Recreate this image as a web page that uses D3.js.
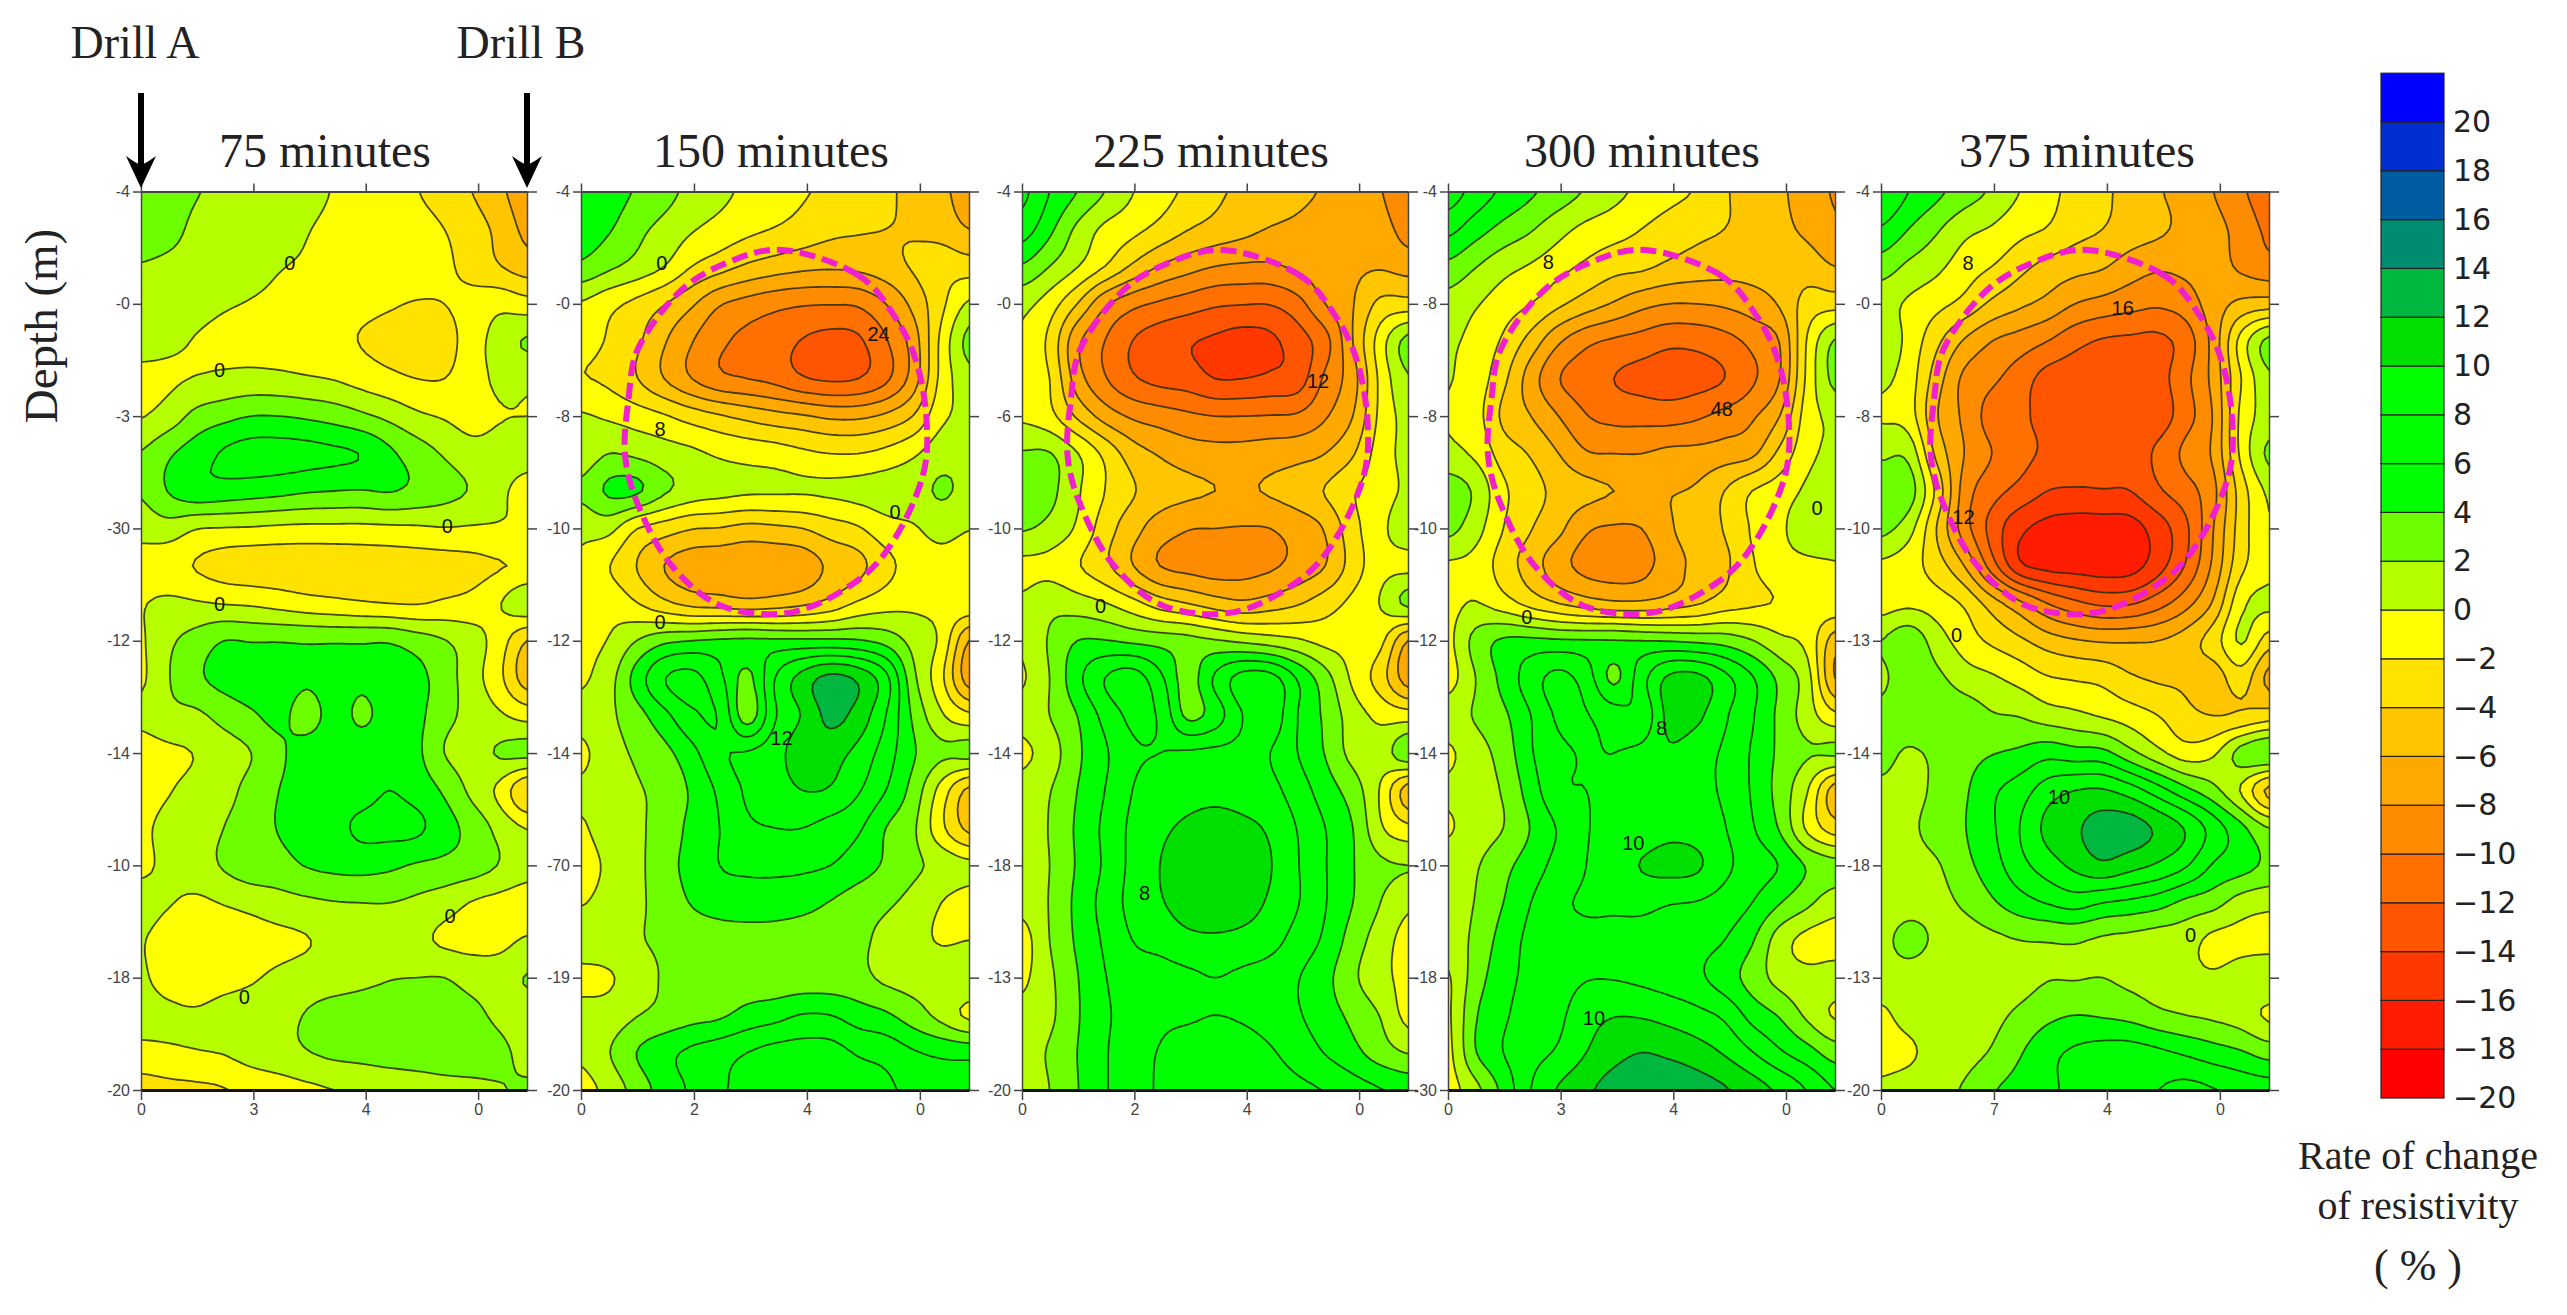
<!DOCTYPE html>
<html>
<head>
<meta charset="utf-8">
<script src="https://cdn.jsdelivr.net/npm/d3@7"></script>
<style>
  html, body { margin: 0; background: #fff; }
</style>
</head>
<body>
<div id="chart"></div>
<script>
// rate of change of resistivity (%)
// rows: depth -4 to -20, columns: distance 0 to 6.87 m from drill A
const minutes75 = [
  [3,2.8,2.1,1.6,1.3,1,.6,-.1,-.6,-1,-1.9,-3,-4,-5.6,-7],
  [3,2.6,1.6,1.2,1,.7,.1,-.4,-.8,-1,-1.2,-2,-3,-4.6,-6.5],
  [1.9,1.6,1.2,.9,.6,.1,-.2,-.5,-.7,-.9,-1.1,-1.7,-2.6,-3.9,-5],
  [1.3,1.1,.7,.2,-.1,-.4,-.7,-1,-1.4,-1.8,-2.1,-2,-1.4,-.6,-1.2],
  [.9,.4,-.1,-.5,-.7,-.9,-1,-1.3,-2.1,-2.6,-2.8,-2.7,-1,.9,2.2],
  [-.6,-.3,.1,.4,.6,.5,.2,-.1,-.8,-1.5,-2,-2,-.9,.4,.3],
  [-.1,.9,2.6,3.4,4,4,3.7,3.2,2.4,1.5,.4,-.2,-.8,-.1,0],
  [2.1,3.7,5,6.2,6.8,6.8,6.6,6.3,5.9,4.4,3,1.8,.8,.7,.6],
  [2.2,4.1,5.3,5.2,4.9,4.6,4.2,4,3.9,4.1,3.5,2.7,1.8,.4,-.6],
  [.7,1.1,.1,-.1,-.2,-.4,-.5,-.5,-.5,-.4,-.3,-.1,-.2,-.2,-.2],
  [-.8,-1.3,-2.1,-2.8,-3.1,-3.2,-3.3,-3.3,-3.2,-3.1,-3,-2.9,-2.6,-2.1,-1.8],
  [-.1,.4,.2,-.1,-.3,-.7,-1.2,-1.5,-1.8,-2,-2.1,-1.7,-1.3,-.1,1.5],
  [-.2,1.6,2.8,4,3.9,3.9,3.8,3.8,3.8,3.8,3,2.1,.9,-1,-4],
  [-.3,1.9,3.6,4.6,5,5,4.3,4.8,4.3,4.8,4.6,2.9,.9,-1.5,-5],
  [.4,1.4,1.6,2.7,3.7,4.5,3.2,4.7,3.7,4.7,4.5,2.6,1.4,.3,-.7],
  [-.8,-.4,.1,1,2,3.6,4.9,5,5,5,4.4,2,1.2,2.2,2.5],
  [-.7,-.1,.6,1.3,2.7,4,4.8,5,5.2,6,5.2,3.7,1.5,-.5,-4],
  [-.3,.5,1,2,3.1,4.1,4.9,5.4,6.4,6.6,6.4,4.8,3.3,1.4,-.1],
  [-.3,.4,1,2.2,3.2,3.3,4.1,4.5,4.7,4.4,3.8,3.5,3,1.9,.8],
  [.6,.1,-.3,.1,.6,1.2,1.6,1.9,2,2,1.6,.9,-.1,-.6,-1],
  [.1,-.7,-1,-1,-.8,-.5,-.1,.6,1,1.1,.5,-.3,-.6,-.5,.2],
  [.2,-.6,-1,-.6,-.2,.4,.9,1.1,1.5,1.9,2,2,1.3,1.1,2.1],
  [.5,.3,.2,.6,.9,1.4,2.1,2.8,3,3.1,3.1,3,2.5,1.6,1.1],
  [-.5,-.3,-.1,.1,.8,1.3,1.9,2.4,2.6,2.8,2.9,3,2.9,2.4,1.5],
  [-3,-2.6,-2.4,-2.1,-1.4,-.9,-.4,0,.4,.8,1.1,1.4,1.6,1.9,2.2]
];
const minutes150 = [
  [6,5,3.8,2.7,1.4,.5,-.4,-1,-1.8,-2.4,-3,-3.7,-4.5,-5.5,-7],
  [5.2,4.2,2.6,1.4,.2,-.7,-1.5,-2.1,-2.8,-3.5,-3.8,-4,-4.2,-4.8,-6],
  [3.6,2.4,1.3,0,-2,-3.2,-4.3,-5,-5.5,-5.7,-5.5,-4.8,-3.8,-2.8,-3],
  [-.2,-1.4,-2.5,-3.9,-5.7,-7.8,-8.7,-9.4,-9.8,-9.9,-9.7,-8,-5.4,-2.5,.3],
  [-1.3,-2.2,-3.6,-5.8,-7.9,-9.6,-10.5,-11.2,-12.1,-12.6,-12.3,-10.2,-7,-1.5,2.6],
  [-1.9,-2.4,-3.9,-6,-8,-9.5,-10,-10.6,-11.8,-12.3,-12,-10.4,-7,-1.4,1.3],
  [.2,-.3,-1,-1.8,-2.9,-3.8,-4.6,-5.3,-5.8,-6.4,-6.4,-5.6,-3.9,-.5,.5],
  [.7,2,1.6,.9,.4,-.3,-.7,-1,-1.6,-2,-2,-1.4,-.3,1.2,1.4],
  [2.4,4.3,4.3,2.3,1.1,.6,.3,.25,.2,.3,.6,1,1.3,2.2,1.5],
  [.4,.6,-1.9,-3,-3.9,-4.1,-4.6,-4.4,-4,-3,-2.2,-.8,-.2,.7,.1],
  [-.3,-1.9,-4,-6,-7,-7.3,-7.6,-7.5,-7.1,-5.6,-4.6,-2.6,-1.2,-.8,-1.4],
  [-1.2,-.6,-1.9,-3.5,-4.6,-4.9,-5.3,-5,-4.4,-3.3,-1.7,-.8,-.4,-.5,-.5],
  [-.5,.1,2,3.5,4,4.3,4.4,4.4,4.4,4.4,4.2,3.3,1.3,-.5,-6],
  [-.3,1.2,4.8,7.9,8.6,6.5,3.5,8,10.8,12.6,11.6,8.6,2.5,-1.5,-7],
  [.6,1.6,3.2,5.4,7.6,7.8,3,7.8,10.2,12.5,11.2,8,3.6,.3,-1.5],
  [-.4,1.2,2.3,3.4,5.4,7.7,8.2,9.2,11.2,10.8,9.4,7,4.2,2.4,2.6],
  [.3,1,1.8,2.6,4.3,6.4,8.3,9,10,9.8,8.2,6,3.2,-.8,-4.5],
  [-.2,.8,1.6,2.9,4.5,6,7.6,8,8,7.2,6.3,4,2.3,-1.5,-4.5],
  [-.6,.3,1.4,3.4,4.5,6,6.4,6.5,6.4,6,5,3.7,2.4,1.4,.5],
  [-.1,.6,1.5,3,4.1,4.8,5,4.9,4.6,3.9,3,2.3,1.4,0,-.8],
  [1,1.2,1.8,2.4,2.9,3.1,3.2,3.2,3,2.9,2.4,1.5,.8,-.2,0],
  [-.5,-.2,1,2.2,2.7,2.8,2.9,2.8,2.8,2.8,2.6,1.6,1.3,1.8,1.9],
  [.6,.8,1.9,2.6,3.3,3.7,4.7,5.3,6.1,6,5,4.3,2.9,1.4,-.4],
  [.4,1.9,4,5.4,6.4,7.2,8,8.7,8.9,8.8,7.8,7.3,6.2,5.6,5.4],
  [-.8,.7,2.8,4.9,6.3,7.7,8.6,9.4,9.8,9.5,9,8.4,7.4,7,6.9]
];
const minutes225 = [
  [8.5,6,4,2,.1,-1.2,-2.4,-3.6,-4.4,-5,-5.6,-6.2,-7,-7.9,-9.5],
  [7,4.5,1.6,-.4,-1.4,-2.6,-3.9,-4.7,-5.4,-6.1,-6.4,-6.7,-7,-7.2,-8.8],
  [3.8,2,.1,-2,-4.3,-6.1,-7.2,-8,-8.3,-8.3,-7.6,-6.7,-6.4,-6.2,-6.8],
  [.6,-1,-4,-7.6,-9.4,-10.3,-11,-11.7,-11.9,-11.9,-10.7,-8,-6.1,-3.5,-3.2],
  [-.3,-2.5,-7.5,-10,-12,-13.1,-13.8,-14.3,-14.8,-14.4,-12.9,-10.7,-6,-1,2.7],
  [-.4,-2,-7,-9.8,-11.7,-12.6,-13,-14,-14,-13.6,-13,-9.6,-6.8,-1.5,1.8],
  [-.3,-1.4,-4.3,-6.8,-8.3,-9,-9.6,-10,-10,-9.9,-9.7,-8.2,-6,-1.5,.7],
  [2.2,2.1,.1,-2.5,-5,-6.2,-7,-7.3,-7.3,-7,-6.7,-6,-4.2,-1,.5],
  [3.8,2.6,.3,-2,-3.8,-5,-5.6,-6,-6.2,-5.8,-5,-3.9,-2.2,-.8,.3],
  [2.2,1.4,-.3,-3,-5.2,-7,-7.9,-8,-8.1,-8,-7.2,-5.8,-2.7,-.5,1.1],
  [-.5,-.6,-1.8,-3.5,-5.9,-8,-8.6,-8.9,-8.7,-8.3,-7.3,-6,-3.1,-.7,-.5],
  [.3,1.4,.9,.1,-1.3,-3,-4,-5,-5.6,-5,-4.2,-2.9,-1.5,.1,2.5],
  [.3,2.2,4,4.1,3.6,3.2,2.7,2.2,1.6,1,.3,-.6,-.8,-1.5,-6],
  [-.2,2,5.4,8,9,6.5,3.2,6.3,8.8,8.8,5.8,2.8,-.4,-3,-7],
  [.6,2,4,6.6,8.4,7.7,3.6,5,8,9.2,6,3.6,1,-.5,-1],
  [-.4,1,3.6,5.7,7.7,8,8.3,8.5,8.5,8,6,3.9,1.4,1,3.5],
  [.7,1.9,4,6,8,8.8,9.3,9.5,9.2,8.6,7,5,3,-.2,-5],
  [1,2.1,4.3,6.4,8.4,9.6,10.3,10.6,10.4,9.7,7.9,6,4,.3,-1.5],
  [.8,2,4.2,6.3,8.5,10,10.9,11.2,11,10.1,8.1,6.1,4.1,2.4,2],
  [.6,2.1,4.5,6.7,8.6,9.8,10.8,11,10.8,9.7,8.1,6.1,4,2,.4],
  [-.8,2,4.3,6.3,8,8.7,9.5,9.7,9.4,8.7,7.2,5.6,3.1,1,-.7],
  [-.4,1.6,3.9,5.9,7,7.2,7.6,8,7.6,7.1,6.1,4.6,2.4,.6,-.5],
  [.6,1.6,3.8,5.7,6.7,7.6,7.8,8,7.8,7.2,6.2,4.9,3.5,1.9,-.6],
  [1.2,2.2,4,5.8,7.2,8.1,8.7,8.9,8.8,8.2,7.2,5.9,4.6,3,1.9],
  [.8,2,3.9,5.8,7.2,8.2,8.8,9,9,8.8,8.4,7.9,6.9,6.1,5.4]
];
const minutes300 = [
  [9,7.2,5.6,4.3,3.1,1.8,.6,-.5,-1.4,-2.2,-3.8,-4.6,-5.7,-6.8,-8.2],
  [6.6,4.9,3.4,2.2,.7,-.5,-1.2,-2,-2.9,-3.5,-4,-4.6,-5.5,-6.4,-7.6],
  [3.5,2.1,.7,-.2,-1.3,-2.4,-3.3,-3.6,-4.4,-4.9,-5.2,-5.2,-5.2,-5,-6],
  [1.2,.2,-1,-2,-3.6,-5,-6.2,-7.4,-8,-8,-7.7,-7,-5.8,-3.2,-2.8],
  [.3,-.6,-2.3,-4.8,-7.7,-9.5,-10.3,-10.8,-11.5,-11.4,-10.7,-9.5,-7.9,-1.8,2.2],
  [.1,-.9,-3.5,-7,-9.9,-11,-12,-12.6,-13,-12.7,-12,-10.3,-8,-1.5,2.6],
  [-.1,-1.2,-4.4,-6,-8,-9.9,-10.6,-10.7,-10.8,-10.3,-9.4,-8.3,-6,-1,.4],
  [.5,-.4,-2.9,-4.2,-6,-7.8,-8,-8,-7.5,-7.4,-7,-6.4,-3.5,-.6,.5],
  [3.2,1.6,-1.6,-3.2,-4.6,-5.4,-6,-6.1,-6.1,-5.7,-4,-2,-1,.4,1.8],
  [2.6,.8,-2,-3.9,-5.5,-7.7,-8.2,-8,-6.3,-4.8,-3.9,-1.8,-.4,1.1,.9],
  [-.3,-.7,-2.9,-5,-7.2,-8.6,-8.9,-8.6,-7,-5.4,-4.4,-2.2,-.8,-.4,-.1],
  [-.5,.1,-1.1,-2.7,-4,-5,-5.6,-5.6,-5,-4.2,-3,-2.3,-1.8,-.8,-.4],
  [-.5,2.7,4.3,4.5,4.3,4.2,4.1,4,3.9,3.6,3.2,2.1,.5,-.6,-5],
  [-.8,2,4.6,7,8.6,7,3.6,7.2,10.4,10.6,8.6,6.2,3.5,.8,-6],
  [1,2.2,3.6,6,8.3,8.1,7,6.5,10.6,10.4,8.3,6.2,3.5,1,-1.5],
  [-.3,1.2,2.8,5.8,7.6,8.1,8,8.5,9.7,8.8,7.7,5.8,3.6,2.2,2.3],
  [.3,1.3,2.2,5,7.6,8,8.1,8.7,9,8.5,7.7,5.8,3.2,.1,-5],
  [-.2,1,2,4.1,6.2,7.9,8.2,8.7,9.4,9.1,8.1,6.2,3.8,-.4,-3],
  [.9,1.8,3.4,5,6.7,8,8.8,10.1,10.6,10.3,8.5,7,5.9,3.8,2.7],
  [1,2.1,4,6,7.6,8.2,8.3,8.5,8.1,7.9,7.2,6,4.1,2.4,.9],
  [.9,2.5,4.8,6.5,7.4,7.6,7.5,7.3,7,6.7,6,4.2,1,-.6,-1],
  [-.2,3,5.3,6.5,7.3,7.9,7.9,7.6,7.1,6.4,5,3.2,1.3,.6,.9],
  [-.3,3.8,5.7,6.8,7.6,9.2,9.9,9.8,9.3,8.6,7.6,5.3,3.8,1.6,-.2],
  [-.5,3.9,6,7.3,8.3,10,11.3,12,11.6,10.9,9.8,8.1,6.3,4.8,3.1],
  [-.8,1.4,4.6,8,10.2,11.6,12.9,13.5,13.6,13,12.2,11,9.6,7.9,6]
];
const minutes375 = [
  [8,6,4.5,3,1.7,0,-1.4,-2.6,-3.6,-4.7,-5.8,-6.8,-8,-9.7,-11],
  [5.8,4,2.3,.6,-.2,-1.4,-2.1,-3.3,-4,-4.9,-5.6,-6.6,-7.3,-8.8,-10.4],
  [3,1.6,.5,-1,-2,-3.4,-4.6,-5.3,-5.8,-7,-7.7,-7.5,-7.1,-8.4,-9.3],
  [.8,-.3,-1.4,-2.6,-4.4,-5.6,-6.6,-8,-8.7,-9.3,-9.7,-9,-7,-5.5,-5],
  [1.5,-.6,-3.5,-6.2,-8,-8.9,-10,-11.4,-12.2,-12.4,-12.5,-11,-7.2,-1.2,2.6],
  [.4,-1,-5,-8.4,-9.6,-11,-12.7,-13,-13,-13,-12.7,-10.5,-7.3,-2,1.6],
  [-.2,-1,-5.8,-8.4,-10.8,-11.6,-12.6,-13,-13.1,-13.2,-13,-10.8,-7.8,-1.5,.8],
  [1.6,1.4,-4.5,-8,-10,-11.3,-12.4,-13,-13.2,-13,-11.6,-9.5,-7.6,-1.5,2.4],
  [3.6,3,-2.5,-8.8,-11.2,-12.6,-14,-14.2,-14.1,-14,-12.3,-10.8,-8.5,-3,.4],
  [2.6,.8,-4,-9,-12.7,-15.5,-16.6,-17,-17,-16.8,-15,-12.4,-8,-3,-.2],
  [-.4,-1.2,-3,-6,-11,-15.5,-16.6,-16.8,-17,-16.8,-14.8,-11.8,-7.5,-2.5,-.8],
  [-.8,-.4,-1,-2.3,-5,-7.5,-10,-11.5,-12.4,-12.2,-10.8,-8.7,-5.7,-.5,.5],
  [2,3.4,1,-.9,-2.4,-3.6,-5,-5.8,-6.2,-6.2,-6,-5,-3,.2,-3],
  [1.6,3.2,2.5,1,.3,-.7,-1.8,-2.2,-2.6,-3.7,-4.3,-4.4,-5,-3,-6.5],
  [2.5,3.2,3.5,3.2,2.2,1.9,1,.5,-.2,-1,-2,-3.4,-4,-3.7,-3],
  [2.6,1.8,2.4,3.3,3.9,4.4,5.3,4.8,4.6,2.6,.6,-1,-.3,2.8,4],
  [1.6,1.4,2.4,3.7,5.6,7,9,10,10.2,9,6.9,4.6,2.6,-.2,-4.5],
  [1.2,1.6,2.8,3.9,5.7,8,10.5,11.7,12.8,12.9,11.6,9.8,7.1,4.5,2],
  [.8,1.3,1.8,3.4,5.1,7.3,9,10.5,11.6,10.7,9.7,8.2,5.8,4.8,3.6],
  [.6,1.1,1.4,2.3,3.7,5.1,6.1,6.8,6,5.5,4.8,3.5,2.7,1.1,.5],
  [1.3,2.8,1.6,1.1,1.5,2,2.1,2.2,1.7,1.4,1,.8,-.5,-.6,-.8],
  [.9,.9,.7,.8,1,1.3,1.9,1.9,2,1.5,1,.6,.3,1,1.6],
  [-.3,.6,1,1.2,1.5,2.4,3.5,4,3.8,3.4,2.5,2,1.6,1,-.3],
  [-.6,-.3,.8,1.3,2.2,3.8,5.4,6.3,6.8,6.9,6.4,5.7,4.9,4.2,3.2],
  [.3,.8,1.4,2.2,3.8,4.7,5.6,6.5,7,7.5,8,8.6,8.1,7.4,7]
];
const panelFields = [minutes75, minutes150, minutes225, minutes300, minutes375];
const panelTitles = ["75 minutes", "150 minutes", "225 minutes", "300 minutes", "375 minutes"];

const depthTicks = [-4, -6, -8, -10, -12, -14, -16, -18, -20];
const distanceTicks = [0, 2, 4, 6];
const depthLabels = [
  ["-4", "-0", "-3", "-30", "-12", "-14", "-10", "-18", "-20"],
  ["-4", "-0", "-8", "-10", "-12", "-14", "-70", "-19", "-20"],
  ["-4", "-0", "-6", "-10", "-12", "-14", "-18", "-13", "-20"],
  ["-4", "-8", "-8", "-10", "-12", "-14", "-10", "-18", "-30"],
  ["-4", "-0", "-8", "-10", "-13", "-14", "-18", "-13", "-20"]
];
const distanceLabels = [
  ["0", "3", "4", "0"],
  ["0", "2", "4", "0"],
  ["0", "2", "4", "0"],
  ["0", "3", "4", "0"],
  ["0", "7", "4", "0"]
];

// [distance, depth, text]
const contourLabels = [
  [[2.65,-5.28,"0"],[1.4,-7.18,"0"],[5.45,-9.95,"0"],[1.4,-11.35,"0"],[5.5,-16.9,"0"],[1.84,-18.35,"0"]],
  [[1.43,-5.28,"0"],[5.27,-6.54,"24"],[1.4,-8.23,"8"],[5.56,-9.71,"0"],[1.4,-11.67,"0"],[3.55,-13.74,"12"]],
  [[5.27,-7.38,"12"],[1.4,-11.38,"0"],[2.18,-16.5,"8"]],
  [[1.78,-5.25,"8"],[4.86,-7.88,"48"],[6.55,-9.63,"0"],[1.4,-11.58,"0"],[3.79,-13.56,"8"],[3.29,-15.6,"10"],[2.59,-18.72,"10"]],
  [[1.54,-5.28,"8"],[4.28,-6.07,"16"],[1.46,-9.8,"12"],[1.34,-11.9,"0"],[3.15,-14.79,"10"],[5.48,-17.24,"0"]]
];

// dashed zone drawn on panels 2 to 5, [distance, depth]
const zoneOutline = [
  [3.56,-5.04],[4.88,-5.47],[5.55,-6.22],[5.94,-7.04],[6.12,-8.09],[6.05,-9.07],[5.55,-10.19],[4.88,-10.94],
  [3.74,-11.49],[2.49,-11.38],[1.58,-10.63],[1.01,-9.58],[.78,-8.69],[.84,-7.71],[1.01,-6.8],[1.69,-5.84],[2.49,-5.31]
];
const zoneShift = [null, 0, .03, -.07, .1];

const levels = d3.range(-20, 21, 2);
const bandColors = ["#ff0000","#ff0000","#ff1c00","#ff3800","#ff5500","#ff7000","#ff8c00","#ffa900","#ffc500","#ffe200",
  "#ffff00","#b6ff00","#6dff00","#00ff00","#00ff00","#00ff00","#00e000","#00b840","#008c70","#005ca0","#002ed0","#0000ff"];
const color = d3.scaleThreshold().domain(levels).range(bandColors);

const width = 2567, height = 1315;
const panelLeft = [141, 581, 1022, 1448, 1881];
const panelRight = [527, 969, 1408, 1835, 2269];
const plotTop = 191.5, plotBottom = 1090;
const maxDistance = 6.87;
const titleX = [325, 771, 1211, 1642, 2077];
const serif = "'Liberation Serif', serif";
const upsample = 6;

const svg = d3.select("#chart").append("svg")
  .attr("width", width).attr("height", height)
  .style("display", "block");

// catmull-rom resample of the read grid so contour lines come out round
function resample(rows, f) {
  const nr = rows.length, nc = rows[0].length;
  const at = (r, c) => rows[Math.max(0, Math.min(nr - 1, r))][Math.max(0, Math.min(nc - 1, c))];
  const cr = (a, b, c, d, t) => b + .5 * t * (c - a + t * (2 * a - 5 * b + 4 * c - d + t * (3 * (b - c) + d - a)));
  const w = (nc - 1) * f + 1, h = (nr - 1) * f + 1;
  // one extra sample on each side keeps the closing contour edge outside the clip
  const out = new Array((w + 2) * (h + 2));
  for (let j = -1; j <= h; j++) {
    const jj = Math.max(0, Math.min(h - 1, j));
    const r = Math.min(nr - 2, Math.floor(jj / f)), v = jj / f - r;
    for (let i = -1; i <= w; i++) {
      const ii = Math.max(0, Math.min(w - 1, i));
      const c = Math.min(nc - 2, Math.floor(ii / f)), u = ii / f - c;
      const col = [-1, 0, 1, 2].map(k => cr(at(r + k, c - 1), at(r + k, c), at(r + k, c + 1), at(r + k, c + 2), u));
      out[(j + 1) * (w + 2) + i + 1] = cr(col[0], col[1], col[2], col[3], v);
    }
  }
  return { values: out, w: w + 2, h: h + 2 };
}

panelFields.forEach((field, p) => {
  const x = d3.scaleLinear().domain([0, maxDistance]).range([panelLeft[p], panelRight[p]]);
  const y = d3.scaleLinear().domain([-4, -20]).range([plotTop, plotBottom]);
  const nCols = field[0].length, nRows = field.length;

  const grid = resample(field, upsample);
  const toPixel = d3.geoTransform({
    point(gx, gy) {
      const col = (gx - 1.5) / upsample, row = (gy - 1.5) / upsample;
      this.stream.point(x(col / (nCols - 1) * maxDistance), y(-4 - row / (nRows - 1) * 16));
    }
  });
  const path = d3.geoPath(toPixel);
  const contours = d3.contours().size([grid.w, grid.h]).thresholds(levels)(grid.values);

  const clipId = "clip" + p;
  svg.append("clipPath").attr("id", clipId).append("rect")
    .attr("x", panelLeft[p]).attr("y", plotTop)
    .attr("width", panelRight[p] - panelLeft[p]).attr("height", plotBottom - plotTop);

  const g = svg.append("g").attr("clip-path", `url(#${clipId})`);
  g.append("rect").attr("x", panelLeft[p]).attr("y", plotTop)
    .attr("width", panelRight[p] - panelLeft[p]).attr("height", plotBottom - plotTop)
    .attr("fill", bandColors[0]);
  g.selectAll("path.band").data(contours).join("path")
    .attr("class", "band")
    .attr("d", path)
    .attr("fill", d => color(d.value));
  g.selectAll("path.line").data(contours).join("path")
    .attr("class", "line")
    .attr("d", path)
    .attr("fill", "none")
    .attr("stroke", "#2a2a10")
    .attr("stroke-opacity", .85)
    .attr("stroke-width", 1.8);

  // contour labels
  svg.selectAll("text.c" + p).data(contourLabels[p]).join("text")
    .attr("class", "c" + p)
    .attr("x", d => x(d[0])).attr("y", d => y(d[1]) + 7)
    .attr("text-anchor", "middle")
    .attr("font-family", "'Liberation Sans', sans-serif")
    .attr("font-size", 20)
    .attr("fill", "#111")
    .text(d => d[2]);

  if (zoneShift[p] !== null) {
    svg.append("path")
      .datum(zoneOutline)
      .attr("d", d3.line().x(d => x(d[0] + zoneShift[p])).y(d => y(d[1])).curve(d3.curveCardinalClosed))
      .attr("fill", "none")
      .attr("stroke", "#ee20d0")
      .attr("stroke-width", 6)
      .attr("stroke-dasharray", "16 7");
  }

  // axes
  const axisFont = g => g.attr("font-family", "'Liberation Sans', sans-serif").attr("font-size", 16)
    .call(s => s.selectAll("text").attr("fill", "#444"))
    .call(s => s.selectAll("line").attr("stroke", "#444").attr("stroke-width", 1.5))
    .call(s => s.select(".domain").attr("stroke", "#444"));

  svg.append("g").attr("transform", `translate(${panelLeft[p]},0)`)
    .call(d3.axisLeft(y).tickValues(depthTicks).tickSize(8).tickSizeOuter(0).tickPadding(3)
      .tickFormat((d, i) => depthLabels[p][i]))
    .call(axisFont).call(s => s.select(".domain").attr("stroke-width", 1.5));
  svg.append("g").attr("transform", `translate(${panelRight[p]},0)`)
    .call(d3.axisRight(y).tickValues(depthTicks).tickSize(10).tickSizeOuter(0).tickFormat(""))
    .call(axisFont).call(s => s.select(".domain").attr("stroke-width", 1.5));
  svg.append("g").attr("transform", `translate(0,${plotTop})`)
    .call(d3.axisTop(x).tickValues(distanceTicks).tickSize(8).tickSizeOuter(0).tickFormat(""))
    .call(axisFont).call(s => s.select(".domain").attr("stroke-width", 2));
  svg.append("g").attr("transform", `translate(0,${plotBottom})`)
    .call(d3.axisBottom(x).tickValues(distanceTicks).tickSize(10).tickSizeOuter(0).tickPadding(4)
      .tickFormat((d, i) => distanceLabels[p][i]))
    .call(axisFont).call(s => s.select(".domain").attr("stroke", "#111").attr("stroke-width", 3));

  svg.append("text")
    .attr("x", titleX[p]).attr("y", 167)
    .attr("text-anchor", "middle")
    .attr("font-family", serif).attr("font-size", 48).attr("fill", "#222")
    .text(panelTitles[p]);
});

// drill arrows
[[141, "Drill A", 135], [527, "Drill B", 521]].forEach(([ax, name, tx]) => {
  svg.append("text").attr("x", tx).attr("y", 58)
    .attr("text-anchor", "middle")
    .attr("font-family", serif).attr("font-size", 46).attr("fill", "#222")
    .text(name);
  svg.append("line").attr("x1", ax).attr("x2", ax).attr("y1", 93).attr("y2", 165)
    .attr("stroke", "#000").attr("stroke-width", 6);
  const head = d3.path();
  head.moveTo(ax, 188);
  head.lineTo(ax - 15, 156);
  head.quadraticCurveTo(ax - 4, 164, ax, 165);
  head.quadraticCurveTo(ax + 4, 164, ax + 15, 156);
  head.closePath();
  svg.append("path").attr("d", head.toString()).attr("fill", "#000");
});

svg.append("text")
  .attr("transform", "translate(57,326) rotate(-90)")
  .attr("text-anchor", "middle")
  .attr("font-family", serif).attr("font-size", 47).attr("fill", "#222")
  .text("Depth (m)");

// colour bar
const barX = 2381, barW = 63;
const barY = d3.scaleLinear().domain([-20, 20]).range([1098, 122]);
const barBands = levels.map((d, i) => [d, i < levels.length - 1 ? levels[i + 1] : 22]);
svg.selectAll("rect.band").data(barBands).join("rect")
  .attr("class", "band")
  .attr("x", barX).attr("width", barW)
  .attr("y", d => barY(d[1])).attr("height", d => barY(d[0]) - barY(d[1]))
  .attr("fill", d => color(d[0]))
  .attr("stroke", "#222").attr("stroke-width", 1.2);
svg.append("g").attr("transform", `translate(${barX + barW},0)`)
  .call(d3.axisRight(barY).tickValues(levels).tickSize(0).tickPadding(9))
  .attr("font-family", "'DejaVu Sans', sans-serif").attr("font-size", 30)
  .call(s => s.select(".domain").remove())
  .call(s => s.selectAll("text").attr("fill", "#222"));

[["Rate of change", 1169, 40], ["of resistivity", 1219, 40], ["( % )", 1280, 44]].forEach(([t, ty, fs]) => {
  svg.append("text").attr("x", 2418).attr("y", ty)
    .attr("text-anchor", "middle")
    .attr("font-family", serif).attr("font-size", fs).attr("fill", "#222")
    .text(t);
});
</script>
</body>
</html>
